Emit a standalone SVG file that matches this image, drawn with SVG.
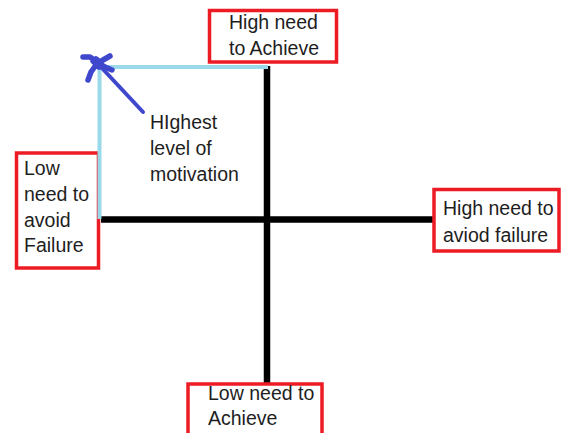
<svg xmlns="http://www.w3.org/2000/svg" width="567" height="433" viewBox="0 0 567 433">
<style>
.box{fill:#fff;stroke:#ed1c24;stroke-width:3.5}
.t{font-family:"Liberation Sans",Arial,sans-serif;font-size:19.5px;fill:#1e1e1e}
.axis{stroke:#000;stroke-width:6.5;fill:none}
.lb{stroke:#99d9ea;stroke-width:4;fill:none}
.mk{stroke:#3f48cc;fill:none;stroke-linecap:round;stroke-linejoin:round}
</style>
<rect width="567" height="433" fill="#fff"/>
<g id="connectors">
<line class="axis" x1="267" y1="66" x2="267" y2="384"/>
<line class="axis" x1="101" y1="219.5" x2="434" y2="219.5"/>
</g>
<g id="node-high-achieve">
<rect class="box" x="209.5" y="10.5" width="127" height="51.5"/>
<text class="t" x="229" y="28.5">High need</text>
<text class="t" x="229" y="54.5">to Achieve</text>
</g>
<g id="node-low-avoid">
<rect class="box" x="16.5" y="153" width="82" height="115"/>
<text class="t" x="24" y="175">Low</text>
<text class="t" x="24" y="201">need to</text>
<text class="t" x="24" y="227">avoid</text>
<text class="t" x="24" y="252">Failure</text>
</g>
<g id="node-high-avoid">
<rect class="box" x="434" y="189.5" width="125" height="61.5"/>
<text class="t" x="443" y="215">High need to</text>
<text class="t" x="443" y="242">aviod failure</text>
</g>
<g id="node-low-achieve">
<rect class="box" x="188" y="384" width="134" height="55"/>
<text class="t" x="208" y="400">Low need to</text>
<text class="t" x="208" y="425">Achieve</text>
</g>
<g id="quadrant">
<polyline class="lb" points="99.5,219 99.5,67 268,67"/>
</g>
<g id="highest">
<path class="mk" stroke-width="5.5" d="M83,57 L90,57 L97,62 L105,67 L112,70 M110,56 L103,60 L96,65 L91,72 L88,80 M93,61 L99,67 M96,59 L100,62"/>
<path class="mk" stroke-width="4" d="M100,66 L143,112"/>
<text class="t" x="150" y="129">HIghest</text>
<text class="t" x="150" y="155">level of</text>
<text class="t" x="150" y="181">motivation</text>
</g>
</svg>
